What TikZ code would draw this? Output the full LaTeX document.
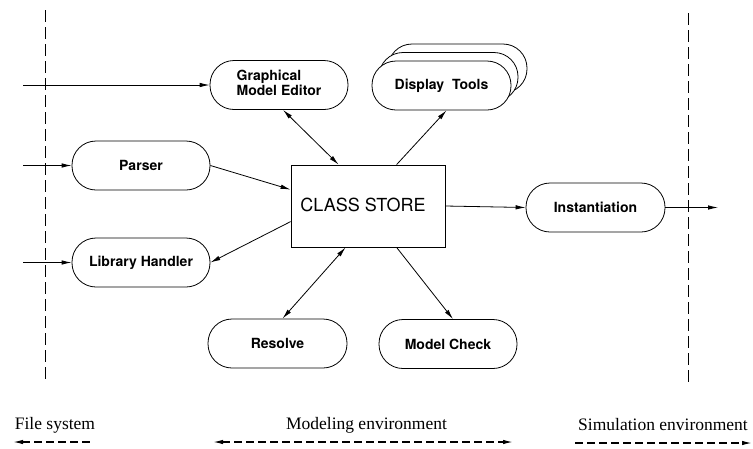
\documentclass[tikz,border=0pt]{standalone}
\usepackage{fontspec}
\setmainfont{Liberation Serif}
\setsansfont{TeX Gyre Heros}
\usetikzlibrary{arrows.meta}
\begin{document}
\begin{tikzpicture}[x=1pt,y=-1pt,
  line width=0.8pt,
  tip/.tip={Latex[length=10pt,width=4.5pt]},
  pill/.style={draw, line width=0.8pt, rounded corners=24pt, minimum width=138pt,
    minimum height=49pt, inner sep=0pt, fill=white,
    font=\sffamily\bfseries\fontsize{14}{14}\selectfont},
  storebox/.style={draw, line width=0.8pt, minimum width=154pt, minimum height=82pt,
    inner sep=0pt, font=\sffamily\fontsize{18}{18}\selectfont},
  conn/.style={-{tip}},
  biconn/.style={{tip}-{tip}},
  border/.style={dash pattern=on 12pt off 5pt, line width=0.7pt},
  envarrow/.style={dash pattern=on 8pt off 4pt, line width=1.3pt},
  envlabel/.style={anchor=base, inner sep=0pt, font=\fontsize{17.5}{18}\selectfont}
]
\useasboundingbox (0,0) rectangle (753,448);

% borders
\coordinate (lbT) at (45,10);
\coordinate (lbB) at (45,380);
\coordinate (rbT) at (688,13);
\coordinate (rbB) at (688,382);
\draw[border] (lbT) -- (lbB);
\draw[border] (rbT) -- (rbB);

% nodes
\node[pill] (gme) at (279,85) {\begin{tabular}{@{}l@{}}Graphical\\Model Editor\end{tabular}};
\node[pill, minimum width=139pt] (dt3) at (457.5,68.5) {};
\node[pill, minimum width=139pt] (dt2) at (448.5,77) {};
\node[pill, minimum width=139pt] (dt) at (441.5,85.5) {Display\ \ Tools};
\node[pill] (parser) at (141,165.5) {Parser};
\node[pill] (lh) at (141,262.5) {Library Handler};
\node[storebox] (cs) at (368,206) {\raisebox{3pt}{\hspace*{-10pt}CLASS STORE}};
\node[pill, minimum width=139pt] (inst) at (595.5,207.5) {Instantiation};
\node[pill, minimum width=139pt] (res) at (277.5,343.5) {Resolve};
\node[pill] (mc) at (448,344) {Model Check};

% inputs
\coordinate (in1) at (23,85);
\coordinate (in2) at (23,165.5);
\coordinate (in3) at (23,262.5);
\coordinate (out) at (718,207.5);
\draw[conn] (in1) -- (gme.west);
\draw[conn] (in2) -- (parser.west);
\draw[conn] (in3) -- (lh.west);

% connectors
\draw[conn] (parser.east) -- ([yshift=-25pt]cs.north west);
\draw[conn] ([yshift=-57pt]cs.north west) -- (lh.east);
\draw[biconn] ([xshift=4pt]gme.south) -- ([xshift=48pt]cs.north west);
\draw[conn] ([xshift=106pt]cs.north west) -- ([xshift=5pt]dt.south);
\draw[conn] (cs.east) -- (inst.west);
\draw[conn] (inst.east) -- (out);
\draw[biconn] ([xshift=5pt]res.north) -- ([xshift=55pt]cs.south west);
\draw[conn] ([xshift=106pt]cs.south west) -- ([xshift=5pt]mc.north);

% environment legend
\node[envlabel] (fs) at (55,429) {File system};
\node[envlabel] (me) at (366.5,429) {Modeling environment};
\node[envlabel] (se) at (663,430) {Simulation environment};
\coordinate (fsL) at (13,442);
\coordinate (fsR) at (92,442);
\coordinate (meL) at (213,442);
\coordinate (meR) at (513,442);
\coordinate (seL) at (575,443);
\coordinate (seR) at (752,443);
\draw[envarrow, {tip}-] (fsL) -- (fsR);
\draw[envarrow, {tip}-{tip}] (meL) -- (meR);
\draw[envarrow, -{tip}] (seL) -- (seR);
\end{tikzpicture}
\end{document}
